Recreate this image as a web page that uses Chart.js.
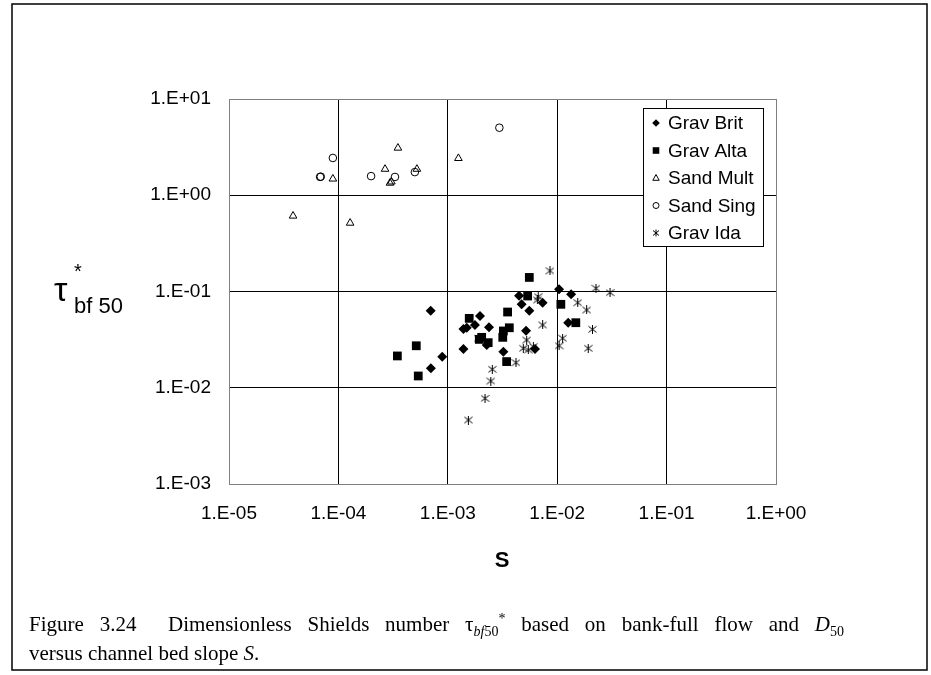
<!DOCTYPE html>
<html lang="en">
<head>
<meta charset="UTF-8">
<title>Shields number vs slope</title>
<style>
  html, body { margin: 0; padding: 0; background: #fff; }
  #grafica { display: block; }
</style>
<script src="https://cdn.jsdelivr.net/npm/chart.js@4.4.1/dist/chart.umd.min.js"></script>
</head>
<body>
<canvas id="grafica" width="931" height="675"></canvas>
<script>
// datos (S, tau*bf50)
const gravBritS   = [6.98e-4, 8.9e-4, 7.0e-4, 1.39e-3, 1.39e-3, 1.49e-3, 1.97e-3, 1.77e-3, 2.38e-3, 2.27e-3, 3.22e-3,
                     4.48e-3, 4.73e-3, 5.56e-3, 5.19e-3, 6.27e-3, 7.36e-3, 1.04e-2, 1.34e-2, 1.26e-2];
const gravBritTau = [0.0632, 0.021, 0.0159, 0.0253, 0.0407, 0.042, 0.0556, 0.0449, 0.0425, 0.0278, 0.0237,
                     0.0906, 0.0736, 0.0632, 0.039, 0.0253, 0.0765, 0.1055, 0.0935, 0.0474];

const gravAltaS   = [3.46e-4, 5.15e-4, 5.37e-4, 1.57e-3, 2.04e-3, 2.34e-3, 1.94e-3, 3.52e-3, 3.22e-3, 3.18e-3,
                     3.65e-3, 3.45e-3, 5.56e-3, 5.37e-3, 1.08e-2, 1.48e-2];
const gravAltaTau = [0.0214, 0.0273, 0.01325, 0.0526, 0.0334, 0.0294, 0.0318, 0.0612, 0.0389, 0.0334,
                     0.042, 0.0187, 0.140, 0.0898, 0.0736, 0.0474];

const sandMultS   = [3.85e-5, 8.9e-5, 1.28e-4, 2.67e-4, 3.5e-4, 2.96e-4, 3.05e-4, 5.22e-4, 1.25e-3];
const sandMultTau = [0.61, 1.48, 0.515, 1.87, 3.1, 1.34, 1.38, 1.87, 2.42];

const sandSingS   = [8.9e-5, 6.8e-5, 6.9e-5, 1.99e-4, 3.29e-4, 5.0e-4, 2.96e-3];
const sandSingTau = [2.44, 1.55, 1.56, 1.58, 1.55, 1.74, 5.03];

const gravIdaS    = [1.54e-3, 2.19e-3, 2.47e-3, 2.55e-3, 4.2e-3, 1.90e-3, 5.26e-3, 4.9e-3, 5.44e-3, 6.58e-3,
                     8.59e-3, 6.71e-3, 6.05e-3, 1.54e-2, 1.86e-2, 2.26e-2, 3.04e-2, 2.1e-2, 1.92e-2, 1.12e-2,
                     1.04e-2, 7.36e-3];
const gravIdaTau  = [0.00462, 0.00776, 0.01175, 0.01556, 0.0182, 0.0327, 0.0313, 0.0257, 0.0247, 0.0817,
                     0.164, 0.0883, 0.0267, 0.0765, 0.0643, 0.108, 0.0973, 0.0405, 0.0257, 0.0327,
                     0.0273, 0.0449];

const etiquetas = ["Grav Brit", "Grav Alta", "Sand Mult", "Sand Sing", "Grav Ida"];
const xTicks = [1e-5, 1e-4, 1e-3, 1e-2, 1e-1, 1e0];
const yTicks = [1e-3, 1e-2, 1e-1, 1e0, 1e1];

const SANS = "'Liberation Sans', Arial, sans-serif";
const SERIF = "'Liberation Serif', 'Times New Roman', serif";

function pares(xs, ys) {
    return xs.map((x, i) => ({ x: x, y: ys[i] }));
}

// 1.E-05 style
function etiqueta(v) {
    const e = Math.round(Math.log10(v));
    return '1.E' + (e < 0 ? '-' : '+') + String(Math.abs(e)).padStart(2, '0');
}

// asterisco de 6 brazos para Grav Ida
function asterisco(size) {
    const c = document.createElement('canvas');
    c.width = size; c.height = size;
    const g = c.getContext('2d');
    g.strokeStyle = '#000';
    g.lineWidth = 1;
    const m = size / 2;
    g.beginPath();
    g.moveTo(m, 0); g.lineTo(m, size);
    g.moveTo(0.5, 1.5); g.lineTo(size - 0.5, size - 1.5);
    g.moveTo(size - 0.5, 1.5); g.lineTo(0.5, size - 1.5);
    g.stroke();
    return c;
}
const estrella = asterisco(9);

function colorGrid(n) {
    return ctx => (ctx.index === 0 || ctx.index === n - 1) ? '#808080' : '#000000';
}

// texto con sub/superindices; si se da "ancho" se justifica repartiendo en los espacios
function tramos(ctx, x, y, partes, ancho) {
    let natural = 0, espacios = 0;
    partes.forEach(p => {
        ctx.font = p.f;
        natural += ctx.measureText(p.t).width;
        espacios += (p.t.match(/ /g) || []).length;
    });
    const extra = ancho ? Math.max(0, (ancho - natural) / espacios) : 0;
    partes.forEach(p => {
        ctx.font = p.f;
        const trozos = p.t.split(' ');
        trozos.forEach((tr, i) => {
            if (tr) {
                ctx.fillText(tr, x, y + (p.dy || 0));
                x += ctx.measureText(tr).width;
            }
            if (i < trozos.length - 1) x += ctx.measureText(' ').width + extra;
        });
    });
}

function marca(ctx, tipo, x, y) {
    ctx.save();
    ctx.fillStyle = '#000';
    ctx.strokeStyle = '#000';
    ctx.lineWidth = 1;
    ctx.beginPath();
    if (tipo === 0) {
        ctx.moveTo(x, y - 3.8); ctx.lineTo(x + 3.8, y); ctx.lineTo(x, y + 3.8); ctx.lineTo(x - 3.8, y);
        ctx.closePath(); ctx.fill();
    } else if (tipo === 1) {
        ctx.fillRect(x - 3.3, y - 3.3, 6.6, 6.6);
    } else if (tipo === 2) {
        ctx.moveTo(x, y - 3.5); ctx.lineTo(x + 3.2, y + 2.3); ctx.lineTo(x - 3.2, y + 2.3);
        ctx.closePath(); ctx.stroke();
    } else if (tipo === 3) {
        ctx.arc(x, y, 3, 0, Math.PI * 2); ctx.stroke();
    } else {
        ctx.moveTo(x, y - 3.5); ctx.lineTo(x, y + 3.5);
        ctx.moveTo(x - 3, y - 2.5); ctx.lineTo(x + 3, y + 2.5);
        ctx.moveTo(x + 3, y - 2.5); ctx.lineTo(x - 3, y + 2.5);
        ctx.stroke();
    }
    ctx.restore();
}

const extras = {
    id: 'extras',
    afterDraw(chart) {
        const ctx = chart.ctx;
        ctx.save();
        ctx.fillStyle = '#000';
        ctx.textBaseline = 'alphabetic';

        // titulo eje y: tau*bf50
        ctx.textAlign = 'left';
        ctx.font = '34px ' + SANS;
        ctx.fillText('\u03C4', 54, 301);
        ctx.font = '20px ' + SANS;
        ctx.fillText('*', 74, 278);
        ctx.font = '22px ' + SANS;
        ctx.fillText('bf 50', 74, 313);

        // titulo eje x
        ctx.textAlign = 'center';
        ctx.textBaseline = 'middle';
        ctx.font = 'bold 22px ' + SANS;
        ctx.fillText('S', 502, 561);

        // leyenda
        const lx = 643, ly = 108, lw = 120, lh = 138;
        ctx.fillStyle = '#fff';
        ctx.fillRect(lx, ly, lw, lh);
        ctx.strokeStyle = '#000';
        ctx.lineWidth = 1;
        ctx.strokeRect(lx + 0.5, ly + 0.5, lw, lh);
        ctx.fillStyle = '#000';
        ctx.textAlign = 'left';
        ctx.font = '19px ' + SANS;
        etiquetas.forEach((t, i) => {
            const yy = 123 + i * 27.5;
            marca(ctx, i, 656, yy);
            ctx.fillText(t, 668, yy + 1);
        });

        // pie de figura (primera linea justificada)
        ctx.textBaseline = 'alphabetic';
        const n = '21px ' + SERIF, it = 'italic 21px ' + SERIF;
        const sn = '14px ' + SERIF, si = 'italic 14px ' + SERIF;
        tramos(ctx, 29, 631, [
            { t: 'Figure 3.24  Dimensionless Shields number ', f: n },
            { t: '\u03C4', f: n },
            { t: 'bf', f: si, dy: 5 },
            { t: '50', f: sn, dy: 5 },
            { t: '*', f: sn, dy: -8 },
            { t: ' based on bank-full flow and ', f: n },
            { t: 'D', f: it },
            { t: '50', f: sn, dy: 5 }
        ], 815);
        tramos(ctx, 29, 660, [
            { t: 'versus channel bed slope ', f: n },
            { t: 'S', f: it },
            { t: '.', f: n }
        ]);

        // marco exterior
        ctx.strokeStyle = '#000';
        ctx.lineWidth = 1.5;
        ctx.strokeRect(12, 4, 915, 666);
        ctx.restore();
    }
};

const $grafica = document.querySelector('#grafica');
const myChart = new Chart($grafica, {
    type: 'scatter',
    data: {
        datasets: [
            { label: etiquetas[0], data: pares(gravBritS, gravBritTau), pointStyle: 'rectRot',
              pointRadius: 5, backgroundColor: '#000', borderColor: '#000', pointBorderWidth: 0 },
            { label: etiquetas[1], data: pares(gravAltaS, gravAltaTau), pointStyle: 'rect',
              pointRadius: 6.2, backgroundColor: '#000', borderColor: '#000', pointBorderWidth: 0 },
            { label: etiquetas[2], data: pares(sandMultS, sandMultTau), pointStyle: 'triangle',
              pointRadius: 4.4, backgroundColor: 'rgba(0,0,0,0)', borderColor: '#000', pointBorderWidth: 1 },
            { label: etiquetas[3], data: pares(sandSingS, sandSingTau), pointStyle: 'circle',
              pointRadius: 3.8, backgroundColor: 'rgba(0,0,0,0)', borderColor: '#000', pointBorderWidth: 1 },
            { label: etiquetas[4], data: pares(gravIdaS, gravIdaTau), pointStyle: estrella,
              pointRadius: 4.5, backgroundColor: '#000', borderColor: '#000', pointBorderWidth: 1 }
        ]
    },
    options: {
        responsive: false,
        animation: false,
        events: [],
        devicePixelRatio: 1,
        layout: { padding: { top: 99, right: 155, bottom: 0, left: 0 } },
        plugins: {
            legend: { display: false },
            tooltip: { enabled: false }
        },
        scales: {
            x: {
                type: 'logarithmic',
                min: 1e-5,
                max: 1,
                afterBuildTicks: s => { s.ticks = xTicks.map(v => ({ value: v })); },
                afterFit: s => { s.height = 191; },
                ticks: {
                    callback: v => etiqueta(v),
                    font: { family: SANS, size: 19 },
                    color: '#000',
                    padding: 18,
                    maxRotation: 0,
                    autoSkip: false
                },
                grid: { color: colorGrid(xTicks.length), drawTicks: false, lineWidth: 1 },
                border: { color: '#808080', width: 1 }
            },
            y: {
                type: 'logarithmic',
                min: 1e-3,
                max: 10,
                afterBuildTicks: s => { s.ticks = yTicks.map(v => ({ value: v })); },
                afterFit: s => { s.width = 229; },
                ticks: {
                    callback: v => etiqueta(v),
                    font: { family: SANS, size: 19 },
                    color: '#000',
                    padding: 18,
                    autoSkip: false
                },
                grid: { color: colorGrid(yTicks.length), drawTicks: false, lineWidth: 1 },
                border: { color: '#808080', width: 1 }
            }
        }
    },
    plugins: [extras]
});
</script>
</body>
</html>
